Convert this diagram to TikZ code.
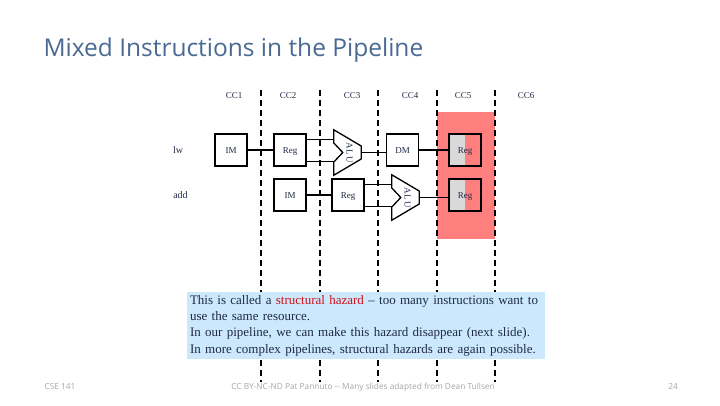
\documentclass[tikz,border=0pt]{standalone}
\usepackage{fontspec}
\setmainfont{Liberation Serif}
\newfontfamily\titlefont{Open Sans}
\usetikzlibrary{positioning,calc}
\definecolor{titleblue}{HTML}{4A6A94}
\definecolor{hazardpink}{HTML}{FF7F7F}
\definecolor{readgray}{HTML}{D9D9D9}
\definecolor{noteblue}{HTML}{CCE8FB}
\definecolor{inkblue}{HTML}{1F2A44}
\definecolor{hazardtext}{HTML}{D0101A}
\definecolor{footgray}{HTML}{A6A6A6}

\begin{document}
\begin{tikzpicture}[x=1pt,y=-1pt,
  stage/.style={draw,line width=1.3pt,fill=white,minimum size=32pt,inner sep=0pt,
    text height=6pt,text depth=0pt,font=\fontsize{9}{10}\selectfont,text=inkblue},
  regread/.style={stage,fill=hazardpink,path picture={
    \fill[readgray] (path picture bounding box.south west) rectangle (path picture bounding box.north);}},
  alubox/.style={minimum width=27pt,minimum height=45pt,inner sep=0pt},
  wire/.style={line width=1.3pt},
  clockline/.style={line width=1.6pt,dash pattern=on 6pt off 4pt},
  cclabel/.style={font=\fontsize{9}{10}\selectfont,text=inkblue},
  instr/.style={font=\fontsize{10}{11}\selectfont,text=inkblue},
  notebox/.style={fill=noteblue,text width=352pt,inner xsep=3pt,minimum height=67pt,
    align=left,font=\fontsize{13}{16.3}\selectfont,text=inkblue},
  foot/.style={font=\titlefont\fontsize{8.3}{9}\selectfont,text=footgray,anchor=base}]
  \useasboundingbox (0,0) rectangle (720,405);
  % Title
  \node[anchor=west,font=\titlefont\fontsize{24.5}{28}\selectfont,text=titleblue] (title) at (40,50) {Mixed Instructions in the Pipeline};
  % Hazard column
  \fill[hazardpink] (437,112) rectangle (495,239);
  % Clock cycle boundaries
  \foreach \x in {261,320,378,437,495} {
    \draw[clockline] (\x,90) -- (\x,382);
  }
  % Clock cycle labels
  \foreach \x/\n in {234/1,288/2,352/3,410/4,463/5,526/6} {
    \node[cclabel] (cc\n) at (\x,96) {CC\n};
  }
  % Instructions
  \node[instr] (lw) at (178,150) {lw};
  \node[instr] (add) at (180.5,195) {add};
  % lw stages
  \node[stage] (im1) at (231,150) {IM};
  \node[stage] (reg1) at (290,150) {Reg};
  \node[alubox] (alu1) at (347.5,152.5) {};
  \node[stage] (dm1) at (402.5,150) {DM};
  \node[regread] (reg2) at (465,150) {Reg};
  % add stages
  \node[stage] (im2) at (290,195) {IM};
  \node[stage] (reg3) at (348,195) {Reg};
  \node[alubox] (alu2) at (405.5,197.5) {};
  \node[regread] (reg4) at (465,195) {Reg};
  % ALU outlines
  \foreach \a in {alu1,alu2} {
    \draw[wire] (\a.north west) -- ($(\a.east)+(0,-6.5)$) -- ($(\a.east)+(0,6.5)$)
      -- (\a.south west) -- ($(\a.west)+(0,9.5)$) -- ($(\a.west)+(9,0)$)
      -- ($(\a.west)+(0,-9.5)$) -- cycle;
    \node[rotate=-90,font=\fontsize{9}{10}\selectfont,text=inkblue] (\a-txt) at ($(\a)+(2,0)$) {A\kern1pt L\kern1pt U};
  }
  % Connections
  \draw[wire] (im1) -- (reg1);
  \draw[wire] (alu1.east) -- (alu1.east -| dm1.west);
  \draw[wire] (dm1) -- (reg2);
  \draw[wire] (im2) -- (reg3);
  \draw[wire] (alu2.east) -- (alu2.east -| reg4.west);
  \foreach \r/\a in {reg1/alu1,reg3/alu2} {
    \draw[wire] ($(\r.east)+(0,-10.5)$) coordinate (\r-hi) -- (\r-hi -| \a.west);
    \draw[wire] ($(\r.east)+(0,11.5)$) coordinate (\r-lo) -- (\r-lo -| \a.west);
  }
  % Note
  \node[notebox] (note) at (366,325.5) {This is called a \textcolor{hazardtext}{structural hazard} -- too many instructions want to\\
    use the same resource.\\
    In our pipeline, we can make this hazard disappear (next slide).\\
    In more complex pipelines, structural hazards are again possible.};
  % Footer
  \node[foot,anchor=base west] (course) at (41,389) {CSE 141};
  \node[foot] (credit) at (363,389) {CC BY-NC-ND Pat Pannuto -- Many slides adapted from Dean Tullsen};
  \node[foot] (page) at (673,389) {24};
\end{tikzpicture}
\end{document}
